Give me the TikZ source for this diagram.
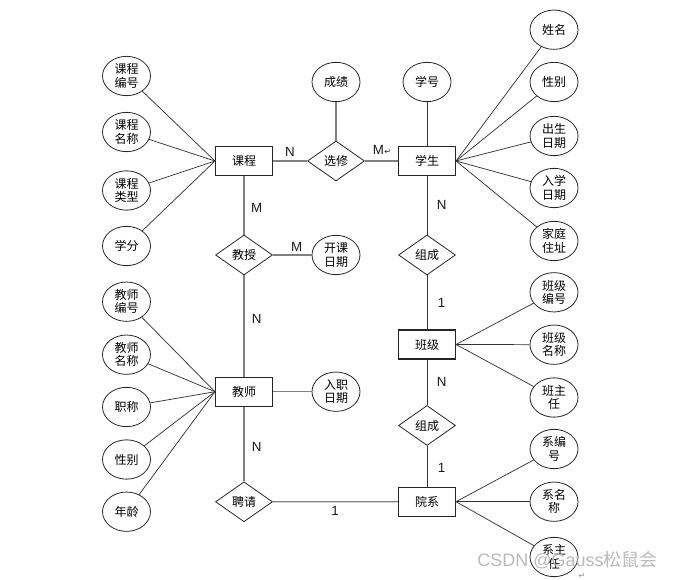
\documentclass[tikz,border=0pt]{standalone}
\usepackage{fontspec}
\setmainfont{Noto Sans CJK SC}
\newfontfamily\latf{Liberation Sans}
\newfontfamily\symf{DejaVu Sans}
\usetikzlibrary{shapes.geometric}
\begin{document}
\begin{tikzpicture}[x=0.75pt,y=-0.75pt,
  every node/.style={font=\fontsize{9}{10}\selectfont, inner sep=0pt, align=center},
  ent/.style={draw=black!85, line width=0.8pt, rectangle, minimum width=42.75pt, minimum height=21.75pt},
  rel/.style={draw=black!85, line width=0.6pt, diamond, minimum width=42.75pt, minimum height=30pt},
  att/.style={draw=black!85, line width=0.6pt, ellipse, minimum width=36pt, minimum height=29.5pt},
  rline/.style={draw=black!50, line width=1pt},
  tline/.style={draw=black!80, line width=0.55pt},
  card/.style={font=\latf\fontsize{10}{10}\selectfont, text=black!90},
]
\useasboundingbox (0,0) rectangle (674,580);
% entities
\node[ent] (kc) at (244,161) {课程};
\node[ent] (xs) at (427,161) {学生};
\node[ent] (js) at (244,391.7) {教师};
\node[ent] (bj) at (427,344.5) {班级};
\node[ent] (yx) at (427,501.7) {院系};
% relationships
\node[rel] (xx) at (336,161) {选修};
\node[rel] (jsh) at (244,255) {教授};
\node[rel] (pq) at (244,501.8) {聘请};
\node[rel] (zc1) at (427,255) {组成};
\node[rel] (zc2) at (427,425.5) {组成};
% attributes
\node[att] (cj) at (336,82) {成绩};
\node[att] (xh) at (427,82) {学号};
\node[att] (kcbh) at (126.5,76) {课程\\编号};
\node[att] (kcmc) at (126.5,132) {课程\\名称};
\node[att] (kclx) at (126.5,190.5) {课程\\类型};
\node[att] (xf) at (126.5,246) {学分};
\node[att] (kkrq) at (336,255) {开课\\日期};
\node[att] (rzrq) at (336,391.7) {入职\\日期};
\node[att] (jsbh) at (126.5,301.7) {教师\\编号};
\node[att] (jsmc) at (126.5,354.7) {教师\\名称};
\node[att] (zch) at (126.5,407) {职称};
\node[att] (xb1) at (126.5,459.5) {性别};
\node[att] (nl) at (126.5,511.7) {年龄};
\node[att] (xm) at (554,29.7) {姓名};
\node[att] (xb2) at (554,82) {性别};
\node[att] (csrq) at (554,136) {出生\\日期};
\node[att] (rxrq) at (554,188) {入学\\日期};
\node[att] (jtzz) at (554,241) {家庭\\住址};
\node[att] (bjbh) at (554,292.3) {班级\\编号};
\node[att] (bjmc) at (554,344.7) {班级\\名称};
\node[att] (bzr) at (554,397.5) {班主\\任};
\node[att] (xbh) at (554,449) {系编\\号};
\node[att] (xmc) at (554,501.7) {系名\\称};
\node[att] (xzr) at (554,557) {系主\\任};
% relationship connectors
\draw[rline] (kc) -- (xx);
\draw[rline] (xx) -- (xs);
\draw[rline] (cj) -- (xx);
\draw[rline] (kc) -- (jsh);
\draw[rline] (jsh) -- (kkrq);
\draw[rline] (jsh) -- (js);
\draw[rline] (js) -- (rzrq);
\draw[rline] (js) -- (pq);
\draw[rline] (pq) -- (yx);
\draw[tline] (xh) -- (xs);
\draw[tline] (xs) -- (zc1);
\draw[tline] (zc1) -- (bj);
\draw[tline] (bj) -- (zc2);
\draw[tline] (zc2) -- (yx);
% attribute connectors
\foreach \a in {kcbh,kcmc,kclx,xf} \draw[tline] (kc.west) -- (\a);
\foreach \a in {jsbh,jsmc,zch,xb1,nl} \draw[tline] (js.west) -- (\a);
\foreach \a in {xm,xb2,csrq,rxrq,jtzz} \draw[tline] (xs.east) -- (\a);
\foreach \a in {bjbh,bjmc,bzr} \draw[tline] (bj.east) -- (\a);
\foreach \a in {xbh,xmc,xzr} \draw[tline] (yx.east) -- (\a);
% cardinalities
\node[card] (c1) at (290,151.7) {N};
\node[card] (c2) at (382,150) {M\kern0.3pt{\symf\fontsize{6}{6}\selectfont ↵}};
\node[card] (c3) at (256.7,208) {M};
\node[card] (c4) at (296.7,247.3) {M};
\node[card] (c5) at (441.7,205) {N};
\node[card] (c6) at (441.7,302.7) {1};
\node[card] (c7) at (441.7,382.3) {N};
\node[card] (c8) at (441.7,468.3) {1};
\node[card] (c9) at (256.7,319.3) {N};
\node[card] (c10) at (256.7,447.3) {N};
\node[card] (c11) at (335,510.7) {1};
% watermark
\node[font=\fontsize{6}{6}\selectfont\symf, text=black!45] (ret) at (582,576) {↵};
\node[font=\fontsize{13.5}{13.5}\selectfont, text=black!30, opacity=0.9] (wm) at (567.5,560) {{\latf CSDN @Gauss}松鼠会};
\end{tikzpicture}
\end{document}
